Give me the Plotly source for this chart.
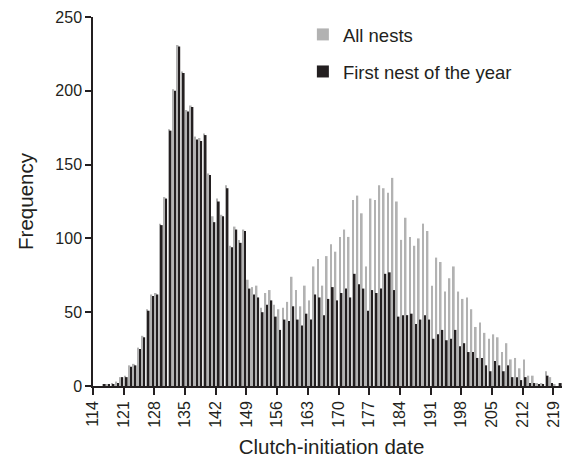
import plotly.graph_objects as go

days = list(range(114, 223))
all_nests = [0, 0, 1, 1, 2, 3, 6, 7, 14, 15, 26, 34, 52, 62, 63, 110, 128, 174, 201, 231,
             213, 187, 190, 169, 168, 171, 144, 115, 127, 116, 136, 95, 108, 99, 106, 72, 67, 68, 53, 63,
             65, 55, 52, 53, 57, 74, 65, 54, 68, 58, 81, 86, 68, 88, 96, 91, 101, 106, 101, 126,
             129, 117, 81, 127, 126, 136, 134, 131, 141, 125, 99, 114, 101, 95, 100, 110, 105, 68, 87, 84,
             64, 73, 81, 64, 59, 60, 52, 40, 43, 36, 32, 35, 33, 23, 29, 18, 19, 12, 18, 7,
             7, 2, 2, 10, 6, 1, 2, 0, 3]
first_nest = [0, 0, 1, 1, 1, 2, 6, 6, 13, 14, 25, 33, 51, 61, 62, 109, 127, 173, 200, 230,
              212, 186, 189, 167, 166, 170, 143, 111, 125, 115, 134, 94, 106, 97, 105, 66, 62, 60, 50, 55,
              58, 47, 38, 45, 44, 54, 45, 41, 49, 45, 62, 60, 48, 59, 67, 58, 63, 66, 60, 76,
              69, 66, 51, 65, 63, 66, 76, 77, 65, 47, 48, 48, 49, 42, 45, 48, 45, 32, 35, 38,
              31, 32, 38, 27, 29, 23, 23, 19, 19, 14, 10, 17, 14, 10, 14, 6, 6, 4, 6, 2,
              2, 1, 1, 7, 2, 0, 2, 0, 1]
tick_days = [114, 121, 128, 135, 142, 149, 156, 163, 170, 177, 184, 191, 198, 205, 212, 219]
y_ticks = [0, 50, 100, 150, 200, 250]

centers = [d + 0.5 for d in days]
txt = "#231f20"
font = "Liberation Sans, Arial, sans-serif"

fig = go.Figure()
fig.add_trace(go.Bar(x=centers, y=all_nests, name="All nests", marker_color="#b2b2b2",
                     marker_line_width=0, legendgroup="a"))
fig.add_trace(go.Bar(x=centers, y=first_nest, name="First nest of the year", marker_color="#231f20",
                     marker_line_width=0, legendgroup="b"))

fig.update_layout(
    width=562, height=457,
    margin=dict(l=85, r=0, t=9, b=79),
    paper_bgcolor="white", plot_bgcolor="white",
    barmode="group", bargap=0.22, bargroupgap=0.0,
    font=dict(family=font, color=txt, size=16),
    legend=dict(x=0.44, y=1.003, xanchor="left", yanchor="top",
                font=dict(size=18.5, color=txt), tracegroupgap=10,
                bgcolor="rgba(0,0,0,0)"),
    xaxis=dict(range=[114, 222.8], tickmode="array", tickvals=tick_days,
               ticktext=[str(t) for t in tick_days], tickangle=-90, automargin=False,
               ticks="outside", ticklen=7, tickwidth=1.5, tickcolor=txt,
               showline=True, linecolor=txt, linewidth=1.5, showgrid=False, zeroline=False,
               tickfont=dict(size=16, color=txt),
               title=dict(text="Clutch-initiation date", font=dict(size=20.5, color=txt), standoff=13)),
    yaxis=dict(range=[0, 250], tickmode="array", tickvals=y_ticks, automargin=False,
               ticks="outside", ticklen=6, tickwidth=1.5, tickcolor=txt,
               showline=True, linecolor=txt, linewidth=1.5, showgrid=False, zeroline=False,
               tickfont=dict(size=16, color=txt),
               title=dict(text="Frequency", font=dict(size=20.5, color=txt), standoff=16)),
)

fig.write_html("out.html")
